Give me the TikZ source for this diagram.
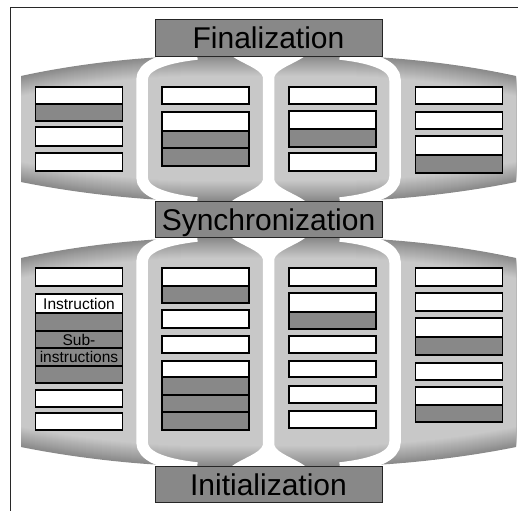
\documentclass[tikz,border=0pt]{standalone}
\usepackage{fontspec}
\setmainfont{Liberation Sans}
\definecolor{cellgray}{RGB}{136,136,136}
\definecolor{bandlight}{RGB}{200,200,200}
\definecolor{banddark}{RGB}{138,138,138}
\definecolor{framecol}{RGB}{40,40,40}
% outline of a gray band region: #1 top y, #2 bottom y, #3 inward offset
\newcommand\regionshape[3]{(21,{#1+20+#3}) .. controls (80,{#1+7+#3}) and (150,{#1+#3}) .. (197,{#1+#3}) -- (340,{#1+#3}) .. controls (387,{#1+#3}) and (457,{#1+7+#3}) .. (516,{#1+20+#3}) -- (516,{#2-19-#3}) .. controls (457,{#2-7-#3}) and (387,{#2-#3}) .. (340,{#2-#3}) -- (197,{#2-#3}) .. controls (150,{#2-#3}) and (80,{#2-7-#3}) .. (21,{#2-19-#3}) -- cycle}
% same outline, widened sideways (used inside the clip)
\newcommand\wideshape[3]{(0,{#1+20+#3}) -- (21,{#1+20+#3}) .. controls (80,{#1+7+#3}) and (150,{#1+#3}) .. (197,{#1+#3}) -- (340,{#1+#3}) .. controls (387,{#1+#3}) and (457,{#1+7+#3}) .. (516,{#1+20+#3}) -- (537,{#1+20+#3}) -- (537,{#2-19-#3}) -- (516,{#2-19-#3}) .. controls (457,{#2-7-#3}) and (387,{#2-#3}) .. (340,{#2-#3}) -- (197,{#2-#3}) .. controls (150,{#2-#3}) and (80,{#2-7-#3}) .. (21,{#2-19-#3}) -- (0,{#2-19-#3}) -- cycle}
\newcommand\bandregion[2]{%
  \begin{scope}
  \clip \regionshape{#1}{#2}{0};
  \foreach \k in {0,...,20}{%
    \pgfmathsetmacro\pp{100*\k/20}%
    \fill[bandlight!\pp!banddark] \wideshape{#1}{#2}{\k};%
  }%
  \end{scope}
  % side separators
  \draw[sepline] (197,{#1-2}) .. controls (162,{#1+2}) and (142,{#1+10}) .. (142,{#1+24}) -- (142,{#2-24}) .. controls (142,{#2-10}) and (162,{#2-2}) .. (197,{#2+2});
  \draw[sepline] (340,{#1-2}) .. controls (375,{#1+2}) and (395,{#1+10}) .. (395,{#1+24}) -- (395,{#2-24}) .. controls (395,{#2-10}) and (375,{#2-2}) .. (340,{#2+2});
  % central separator with flared ends
  \fill[white] (232,{#1-2}) -- (305,{#1-2}) -- (305,#1) .. controls (296,{#1+7}) and (276,{#1+13}) .. (274.25,{#1+21}) -- (274.25,{#2-21}) .. controls (276,{#2-13}) and (296,{#2-7}) .. (305,#2) -- (305,{#2+2}) -- (232,{#2+2}) -- (232,#2) .. controls (241,{#2-7}) and (261,{#2-13}) .. (262.75,{#2-21}) -- (262.75,{#1+21}) .. controls (261,{#1+13}) and (241,{#1+7}) .. (232,#1) -- cycle;
}
\newcommand\cellW[3]{\draw[cellw] ({#1-43.5},#2) rectangle ({#1+43.5},#3);}
\newcommand\cellG[3]{\draw[cellg] ({#1-43.5},#2) rectangle ({#1+43.5},#3);}
\begin{document}
\begin{tikzpicture}[x=1pt,y=-1pt,
  sepline/.style={white, line width=11.5pt},
  cellw/.style={fill=white, draw=black, line width=1.2pt},
  cellg/.style={fill=cellgray, draw=black, line width=1.2pt},
  titlebox/.style={fill=cellgray, draw=black!85, line width=1pt, minimum width=227pt, minimum height=36.5pt, inner sep=0pt, font=\fontsize{30}{30}\selectfont, text height=21.5pt, text depth=0pt},
  small/.style={inner sep=0pt, font=\fontsize{15.5}{15.5}\selectfont, anchor=base}]
\useasboundingbox (0,0) rectangle (518,511);
\draw[framecol, line width=1pt] (518,8) -- (10,8) -- (10,511);
% gray bands
\bandregion{56}{201}
\bandregion{238}{466}
% upper cells
\def\ca{79}\def\cb{205.5}\def\cc{332.5}\def\cd{459}
\cellW{\ca}{87}{104}\cellG{\ca}{104}{121}
\cellW{\ca}{127}{146}
\cellW{\ca}{153}{171}
\cellW{\cb}{87}{104}
\cellW{\cb}{112}{131}\cellG{\cb}{131}{148}\cellG{\cb}{148}{166}
\cellW{\cc}{87}{104}
\cellW{\cc}{111}{129}\cellG{\cc}{129}{147}
\cellW{\cc}{153}{171}
\cellW{\cd}{87}{104}
\cellW{\cd}{112}{129}
\cellW{\cd}{136}{155}\cellG{\cd}{155}{173}
% lower cells
\cellW{\ca}{268}{286}
\cellW{\ca}{294}{313}\cellG{\ca}{313}{331}\cellG{\ca}{331}{348}\cellG{\ca}{348}{366}\cellG{\ca}{366}{383}
\cellW{\ca}{390}{407}
\cellW{\ca}{413}{430}
\cellW{\cb}{268}{286}\cellG{\cb}{286}{303}
\cellW{\cb}{310}{328}
\cellW{\cb}{336}{353}
\cellW{\cb}{361}{377}\cellG{\cb}{377}{395}\cellG{\cb}{395}{412}\cellG{\cb}{412}{430}
\cellW{\cc}{268}{286}
\cellW{\cc}{293}{312}\cellG{\cc}{312}{329}
\cellW{\cc}{336}{353}
\cellW{\cc}{361}{377}
\cellW{\cc}{386}{403}
\cellW{\cc}{411}{428}
\cellW{\cd}{268}{286}
\cellW{\cd}{293}{311}
\cellW{\cd}{318}{337}\cellG{\cd}{337}{355}
\cellW{\cd}{363}{380}
\cellW{\cd}{387}{405}\cellG{\cd}{405}{422}
% texts in cells
\node[small] (instr) at (79,309) {Instruction};
\node[small] (sub1) at (79,345) {Sub-};
\node[small] (sub2) at (79,362.5) {instructions};
% title boxes
\node[titlebox] (fin) at (268.5,37.75) {Finalization};
\node[titlebox] (sync) at (268.5,219.5) {Synchronization};
\node[titlebox] (init) at (268.5,484.5) {Initialization};
\end{tikzpicture}
\end{document}
